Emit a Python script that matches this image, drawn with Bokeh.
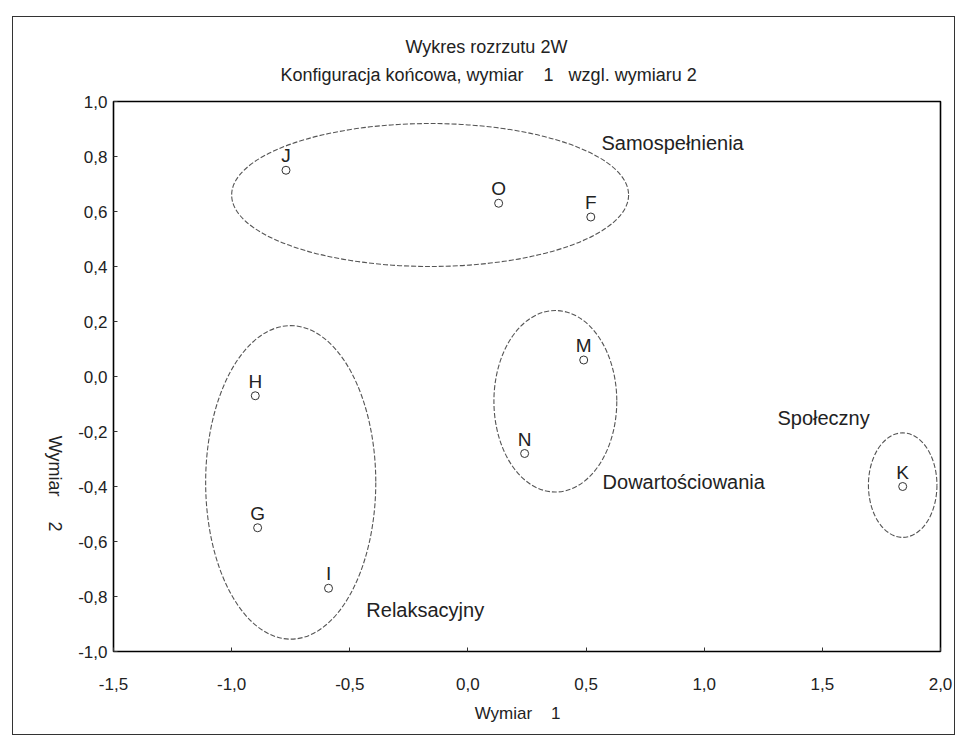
from bokeh.plotting import figure
from bokeh.models import ColumnDataSource, FixedTicker, Title
from bokeh.embed import file_html
from bokeh.resources import INLINE
from bokeh.core.properties import value
import math

# Points (MDS configuration)
point_names = ["J", "O", "F", "M", "H", "N", "G", "I", "K"]
dim1 = [-0.77, 0.13, 0.52, 0.49, -0.90, 0.24, -0.89, -0.59, 1.84]
dim2 = [0.75, 0.63, 0.58, 0.06, -0.07, -0.28, -0.55, -0.77, -0.40]

# Cluster ellipses
group_names = ["Samospełnienia", "Relaksacyjny", "Dowartościowania", "Społeczny"]
group_cx = [-0.16, -0.75, 0.37, 1.84]
group_cy = [0.66, -0.385, -0.09, -0.395]
group_w = [1.68, 0.72, 0.52, 0.29]
group_h = [0.52, 1.14, 0.66, 0.38]
group_label_x = [0.565, -0.43, 0.57, 1.31]
group_label_y = [0.85, -0.85, -0.385, -0.15]

x_ticks = [-1.5, -1.0, -0.5, 0.0, 0.5, 1.0, 1.5, 2.0]
y_ticks = [-1.0, -0.8, -0.6, -0.4, -0.2, 0.0, 0.2, 0.4, 0.6, 0.8, 1.0]

def fmt(v):
    return ("%.1f" % v).replace(".", ",")

NB = "\u00a0"
FONT = "Liberation Sans"
TXT = "#222222"

title_main = "Wykres rozrzutu 2W"
title_sub = "Konfiguracja końcowa, wymiar" + NB * 4 + "1" + NB * 3 + "wzgl. wymiaru 2"

p = figure(width=943, height=719, x_range=(-1.5, 2.0), y_range=(-1.0, 1.0),
           output_backend="svg", toolbar_location=None,
           min_border_left=100, min_border_right=16, min_border_top=82, min_border_bottom=85)
p.margin = (16, 0, 0, 12)
p.styles = {"border": "1.5px solid #333333"}
p.grid.visible = False
p.background_fill_color = "white"
p.border_fill_color = "white"
p.outline_line_color = "black"
p.outline_line_width = 1.6

p.add_layout(Title(text=NB * 25 + title_main + "\n" + title_sub, align="left", offset=167,
                   text_font=FONT, text_font_size="18px", text_font_style="normal",
                   text_line_height=1.4, text_color=TXT, standoff=34), "above")

for ax in (p.xaxis[0], p.yaxis[0]):
    ax.axis_line_color = None
    ax.major_tick_in = 4
    ax.major_tick_out = 0
    ax.minor_tick_line_color = None
    ax.major_tick_line_color = "#333333"
    ax.major_label_text_font = FONT
    ax.major_label_text_font_size = "17px"
    ax.major_label_text_color = TXT

p.xaxis.ticker = FixedTicker(ticks=x_ticks)
p.xaxis.major_label_overrides = {t: fmt(t) for t in x_ticks}
p.xaxis.major_label_standoff = 26
p.xaxis.axis_label = "Wymiar" + NB * 4 + "1" + NB * 4
p.xaxis.axis_label_text_font = FONT
p.xaxis.axis_label_text_font_size = "17px"
p.xaxis.axis_label_text_font_style = "normal"
p.xaxis.axis_label_text_color = TXT
p.xaxis.axis_label_standoff = 11

p.yaxis.ticker = FixedTicker(ticks=y_ticks)
p.yaxis.major_label_overrides = {t: fmt(t) for t in y_ticks}
p.yaxis.major_label_standoff = 6

yax = p.yaxis[0]
props = yax.properties()
yax.axis_label = "Wymiar" + NB * 5 + "2" + NB * 24
yax.axis_label_orientation = -math.pi / 2
if "axis_label_align" in props:
    yax.axis_label_align = "start"
yax.axis_label_text_font = FONT
yax.axis_label_text_font_size = "18px"
yax.axis_label_text_font_style = "normal"
yax.axis_label_text_color = TXT
yax.axis_label_standoff = 20

gsrc = ColumnDataSource(dict(x=group_cx, y=group_cy, w=group_w, h=group_h,
                             lx=group_label_x, ly=group_label_y, name=group_names))
p.ellipse(x="x", y="y", width="w", height="h", source=gsrc, fill_color=None,
          line_color="#555555", line_width=1.1, line_dash="5 2")
p.text(x="lx", y="ly", text="name", source=gsrc, text_font=value(FONT),
       text_font_size="20px", text_color=TXT, text_align="left", text_baseline="middle")

psrc = ColumnDataSource(dict(x=dim1, y=dim2, name=point_names))
p.scatter(x="x", y="y", source=psrc, marker="circle", size=8, fill_color="white",
          line_color="#333333", line_width=1)
p.text(x="x", y="y", text="name", source=psrc, text_font=value(FONT),
       text_font_size="19px", text_color=TXT, text_align="center", text_baseline="bottom",
       y_offset=-4)

open("out.html", "w").write(file_html(p, INLINE))
